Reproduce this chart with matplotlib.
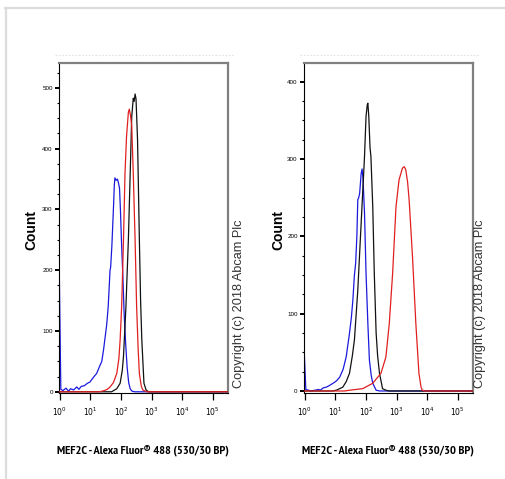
"""
MEF2C flow cytometry overlays (two panels), Alexa Fluor 488 channel.
"""
import numpy as np
import matplotlib
matplotlib.use("Agg")
import matplotlib.pyplot as plt
from matplotlib.lines import Line2D
from matplotlib.ticker import MultipleLocator, LogLocator, NullFormatter, FixedLocator

# ---- data: log10 fluorescence positions and counts ----
# left panel
left_blue_log = [-0.02, 0.03, 0.10, 0.20, 0.28, 0.35, 0.45, 0.55, 0.62, 0.70, 0.80, 0.90,
                 0.98, 1.10, 1.20, 1.30, 1.37, 1.43, 1.48, 1.53, 1.58, 1.64, 1.66, 1.70,
                 1.75, 1.78, 1.80, 1.84, 1.88, 1.91, 1.95, 1.98, 2.02, 2.06, 2.10, 2.15,
                 2.20, 2.25, 2.30, 2.36, 2.45, 5.6]
left_blue_cnt = [195, 4, 2, 6, 1, 5, 3, 8, 4, 9, 10, 14,
                 16, 24, 30, 42, 50, 70, 90, 110, 140, 200, 205, 240,
                 300, 340, 352, 348, 350, 345, 335, 300, 240, 190, 130, 80,
                 40, 15, 5, 1, 0, 0]

left_black_log = [-0.1, 1.69, 1.86, 1.97, 2.04, 2.08, 2.16, 2.24, 2.30, 2.35, 2.40, 2.43,
                  2.46, 2.49, 2.54, 2.60, 2.64, 2.68, 2.75, 2.82, 2.90, 5.6]
left_black_cnt = [0, 0, 5, 14, 35, 58, 140, 250, 360, 453, 483, 478,
                  490, 482, 415, 250, 150, 85, 14, 3, 0, 0]

left_red_log = [-0.1, 1.30, 1.45, 1.55, 1.64, 1.75, 1.86, 1.93, 1.97, 2.02, 2.08, 2.13,
                2.18, 2.24, 2.27, 2.31, 2.35, 2.40, 2.46, 2.51, 2.56, 2.60, 2.66, 2.71,
                2.84, 5.6]
left_red_cnt = [0, 0, 2, 4, 8, 15, 30, 55, 85, 140, 250, 360,
                420, 460, 465, 455, 437, 360, 250, 140, 70, 30, 10, 3,
                0, 0]

# right panel
right_blue_log = [-0.05, 0.03, 0.20, 0.45, 0.50, 0.60, 0.70, 0.80, 0.92, 1.03, 1.14, 1.25,
                  1.35, 1.46, 1.52, 1.57, 1.62, 1.66, 1.70, 1.73, 1.76, 1.79, 1.84, 1.87,
                  1.90, 1.95, 2.00, 2.06, 2.11, 2.17, 2.22, 2.33, 2.45, 5.6]
right_blue_cnt = [75, 2, 0, 2, 1, 4, 5, 7, 10, 13, 18, 28,
                  44, 75, 95, 118, 150, 165, 200, 247, 250, 255, 281, 287,
                  275, 230, 152, 87, 40, 20, 10, 1, 0, 0]

right_black_log = [-0.1, 0.90, 1.03, 1.24, 1.35, 1.46, 1.55, 1.62, 1.73, 1.84, 1.95, 2.00,
                   2.04, 2.06, 2.09, 2.13, 2.16, 2.22, 2.27, 2.33, 2.38, 2.44, 2.54, 2.65,
                   2.76, 5.6]
right_black_cnt = [0, 0, 1, 5, 12, 23, 45, 66, 130, 217, 303, 355,
                   370, 372, 355, 315, 303, 238, 152, 75, 45, 23, 3, 1,
                   0, 0]

right_red_log = [-0.1, 1.30, 1.46, 1.89, 2.22, 2.49, 2.65, 2.76, 2.87, 2.98, 3.08, 3.19,
                 3.25, 3.30, 3.36, 3.41, 3.52, 3.63, 3.73, 3.80, 3.84, 3.95, 5.6]
right_red_cnt = [0, 0, 1, 3, 10, 23, 44, 87, 152, 238, 273, 288,
                 290, 286, 270, 247, 174, 87, 23, 5, 1, 0, 0]

left_yticks = [0, 100, 200, 300, 400, 500]
right_yticks = [0, 100, 200, 300, 400]
xtick_exps = [0, 1, 2, 3, 4, 5]

XLABEL = "MEF2C - Alexa Fluor\u00ae 488 (530/30 BP)"
COPYRIGHT = "Copyright (c) 2018 Abcam Plc"

W, H = 506, 479
fig = plt.figure(figsize=(W / 100, H / 100), dpi=100)
fig.patch.set_facecolor("white")

# light gray frame round the picture
fig.add_artist(Line2D([6 / W, 6 / W], [0, 1 - 8 / H], color="#dcdcdc", lw=1.6))
fig.add_artist(Line2D([5 / W, 1], [1 - 8 / H, 1 - 8 / H], color="#dcdcdc", lw=1.6))


def panel(left_px, ylim, yticks, series, label_x, copy_x):
    ax = fig.add_axes([left_px / W, (H - 393) / H, 169 / W, 330 / H])
    for logs, cnts, color, z in series:
        ax.plot(10 ** np.array(logs), cnts, color=color, lw=0.9, zorder=z)
    ax.set_xscale("log")
    ax.set_xlim(10 ** -0.03, 10 ** 5.5)
    ax.set_ylim(*ylim)

    ax.yaxis.set_major_locator(FixedLocator(yticks))
    ax.yaxis.set_minor_locator(MultipleLocator(25))
    ax.set_yticklabels([str(t) for t in yticks], fontsize=4.5,
                       family="Liberation Sans")
    ax.xaxis.set_major_locator(FixedLocator([10.0 ** e for e in xtick_exps]))
    ax.xaxis.set_minor_locator(LogLocator(base=10, subs=np.arange(2, 10)))
    ax.xaxis.set_minor_formatter(NullFormatter())
    ax.set_xticklabels([f"$10^{{{e}}}$" for e in xtick_exps], fontsize=5.5)

    ax.tick_params(axis="y", which="major", length=3, width=1.4, pad=1.5, direction="out")
    ax.tick_params(axis="y", which="minor", length=1.5, width=0.8, direction="out")
    ax.tick_params(axis="x", which="major", length=5, width=0.9, pad=4, direction="out")
    ax.tick_params(axis="x", which="minor", length=2.5, width=0.7, direction="out")

    for side in ("top", "right"):
        ax.spines[side].set_color("#808080")
        ax.spines[side].set_linewidth(1.6)
    ax.spines["left"].set_linewidth(0.8)
    ax.spines["bottom"].set_linewidth(0.8)

    # faint dotted trace above the frame, as in the scanned original
    fig.add_artist(Line2D([(left_px - 4) / W, (left_px + 176) / W], [1 - 55 / H] * 2,
                          color="#e2e2e2", lw=0.8, ls=(0, (1.5, 1.5))))

    fig.text(label_x / W, 1 - 230 / H, "Count", rotation=90, ha="center", va="center",
             fontsize=10, fontweight="bold", family=["Liberation Sans", "DejaVu Sans"])
    fig.text(copy_x / W, (H - 388) / H, COPYRIGHT, rotation=90, ha="center", va="bottom",
             fontsize=9.2, family=["Liberation Sans", "DejaVu Sans"], color="#333333")
    fig.text((left_px + 84) / W, (H - 450) / H, XLABEL, ha="center", va="center",
             fontsize=8.9, fontweight="bold", family=["PT Sans Narrow", "DejaVu Sans"])
    return ax


panel(59, (-2, 541), left_yticks,
      [(left_blue_log, left_blue_cnt, "#1a1adc", 2),
       (left_black_log, left_black_cnt, "#111111", 3),
       (left_red_log, left_red_cnt, "#e02020", 4)],
      label_x=31, copy_x=239)

panel(304, (-2.6, 424), right_yticks,
      [(right_blue_log, right_blue_cnt, "#1a1adc", 2),
       (right_black_log, right_black_cnt, "#111111", 3),
       (right_red_log, right_red_cnt, "#e02020", 4)],
      label_x=278, copy_x=480)

fig.savefig("out.png", dpi=100, facecolor="white")
